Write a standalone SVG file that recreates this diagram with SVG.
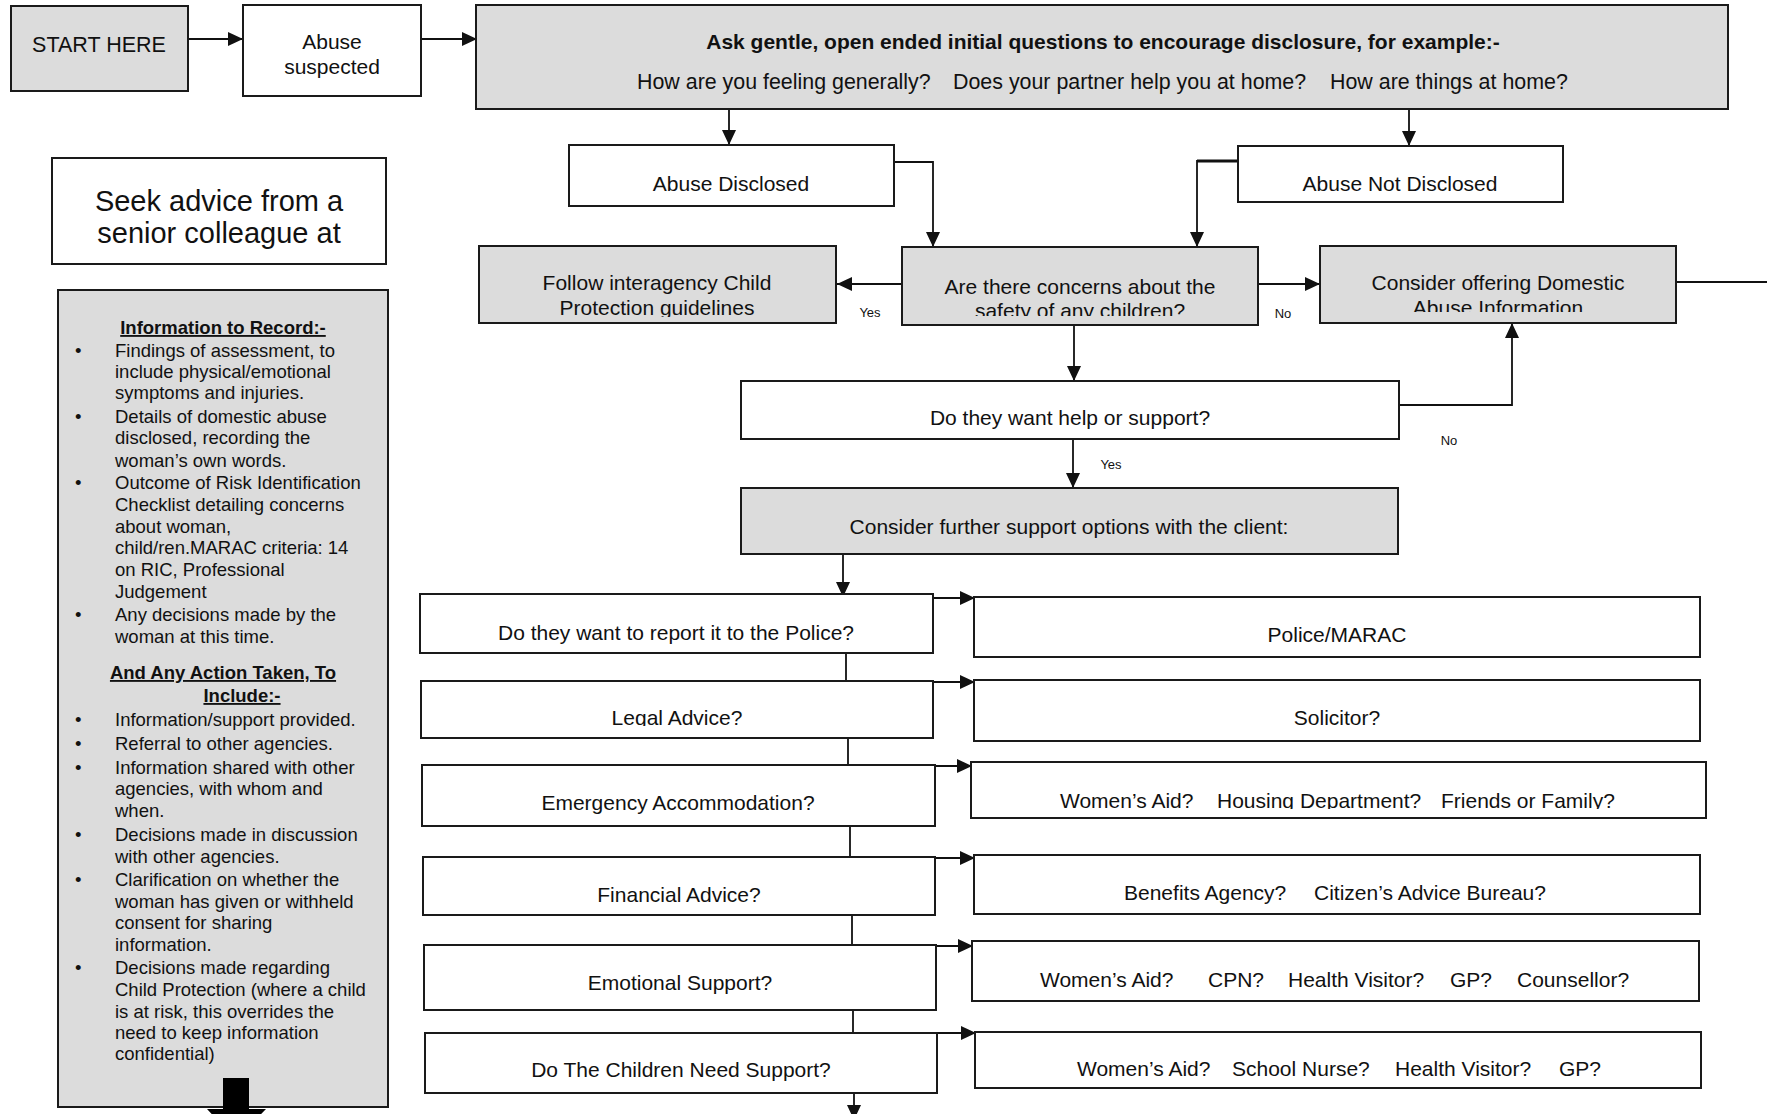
<svg xmlns="http://www.w3.org/2000/svg" width="1767" height="1114" viewBox="0 0 1767 1114">
<style>
.box{stroke:#1a1a1a;stroke-width:2}
.w{fill:#fff}
.g{fill:#dcdcdc}
.t{font-family:"Liberation Sans",Arial,sans-serif;font-size:21px;fill:#111}
.c{text-anchor:middle}
.b{font-weight:bold}
.p{font-size:18.5px}
.u{text-decoration:underline}
.s{font-size:13px}
.ln{stroke:#111;stroke-width:1.8;fill:none}
</style>
<defs>
<marker id="ah" markerUnits="userSpaceOnUse" markerWidth="16" markerHeight="14" refX="15" refY="7" orient="auto">
<path d="M0,0 L15,7 L0,14 z" fill="#111"/>
</marker>
<clipPath id="cpFollow"><rect x="480" y="247" width="356" height="70"/></clipPath>
<clipPath id="cpConcerns"><rect x="903" y="248" width="354" height="68"/></clipPath>
<clipPath id="cpConsider"><rect x="1321" y="247" width="354" height="65"/></clipPath>
<clipPath id="cpLegal"><rect x="422" y="682" width="510" height="44"/></clipPath>
<clipPath id="cpAccom"><rect x="972" y="763" width="733" height="46"/></clipPath>
</defs>
<rect x="0" y="0" width="1767" height="1114" fill="#fff"/>

<g id="connectors">
<path class="ln" d="M188,39 H243" marker-end="url(#ah)"/>
<path class="ln" d="M422,39 H477" marker-end="url(#ah)"/>
<path class="ln" d="M729,109 V145" marker-end="url(#ah)"/>
<path class="ln" d="M1409,109 V146" marker-end="url(#ah)"/>
<path class="ln" d="M894,162 H933 V247" marker-end="url(#ah)"/>
<path class="ln" d="M1238,161 H1197" style="stroke-width:3"/>
<path class="ln" d="M1197,160 V247" marker-end="url(#ah)"/>
<path class="ln" d="M902,284 H837" marker-end="url(#ah)"/>
<path class="ln" d="M1258,284 H1320" marker-end="url(#ah)"/>
<path class="ln" d="M1676,282 H1767"/>
<path class="ln" d="M1074,325 V381" marker-end="url(#ah)"/>
<path class="ln" d="M1399,405 H1512 V323" marker-end="url(#ah)"/>
<path class="ln" d="M1073,439 V488" marker-end="url(#ah)"/>
<path class="ln" d="M843,554 V597" marker-end="url(#ah)"/>
<path class="ln" d="M846,653 V681"/>
<path class="ln" d="M848,738 V765"/>
<path class="ln" d="M850,826 V857"/>
<path class="ln" d="M852,915 V945"/>
<path class="ln" d="M853,1010 V1033"/>
<path class="ln" d="M854,1093 V1120" marker-end="url(#ah)"/>
<path class="ln" d="M933,598 H975" marker-end="url(#ah)"/>
<path class="ln" d="M933,682 H975" marker-end="url(#ah)"/>
<path class="ln" d="M935,766 H972" marker-end="url(#ah)"/>
<path class="ln" d="M935,858 H975" marker-end="url(#ah)"/>
<path class="ln" d="M936,946 H973" marker-end="url(#ah)"/>
<path class="ln" d="M937,1033 H976" marker-end="url(#ah)"/>
<text class="t s c" x="870" y="317">Yes</text>
<text class="t s c" x="1283" y="318">No</text>
<text class="t s c" x="1449" y="445">No</text>
<text class="t s c" x="1111" y="469">Yes</text>
</g>

<g id="start">
<rect class="box g" x="11" y="6" width="177" height="85"/>
<text class="t c" x="99" y="52" style="font-size:21.5px">START HERE</text>
</g>
<g id="abuse-suspected">
<rect class="box w" x="243" y="5" width="178" height="91"/>
<text class="t c" x="332" y="49">Abuse</text>
<text class="t c" x="332" y="74">suspected</text>
</g>
<g id="seek-advice">
<rect class="box w" x="52" y="158" width="334" height="106"/>
<text class="t c" x="219" y="211" style="font-size:29px">Seek advice from a</text>
<text class="t c" x="219" y="243" style="font-size:29px">senior colleague at</text>
</g>
<g id="ask-questions">
<rect class="box g" x="476" y="5" width="1252" height="104"/>
<text class="t c b" x="1103" y="49">Ask gentle, open ended initial questions to encourage disclosure, for example:-</text>
<text class="t" y="89" style="font-size:21.4px"><tspan x="637">How are you feeling generally? </tspan><tspan x="953">Does your partner help you at home? </tspan><tspan x="1330">How are things at home?</tspan></text>
</g>
<g id="abuse-disclosed">
<rect class="box w" x="569" y="145" width="325" height="61"/>
<text class="t c" x="731" y="191">Abuse Disclosed</text>
</g>
<g id="abuse-not-disclosed">
<rect class="box w" x="1238" y="146" width="325" height="56"/>
<text class="t c" x="1400" y="191">Abuse Not Disclosed</text>
</g>
<g id="follow-guidelines">
<rect class="box g" x="479" y="246" width="357" height="77"/>
<g clip-path="url(#cpFollow)">
<text class="t c" x="657" y="290">Follow interagency Child</text>
<text class="t c" x="657" y="315">Protection guidelines</text>
</g>
</g>
<g id="child-safety">
<rect class="box g" x="902" y="247" width="356" height="78"/>
<g clip-path="url(#cpConcerns)">
<text class="t c" x="1080" y="294">Are there concerns about the</text>
<text class="t c" x="1080" y="318">safety of any children?</text>
</g>
</g>
<g id="offer-information">
<rect class="box g" x="1320" y="246" width="356" height="77"/>
<g clip-path="url(#cpConsider)">
<text class="t c" x="1498" y="290">Consider offering Domestic</text>
<text class="t c" x="1498" y="315">Abuse Information</text>
</g>
</g>
<g id="want-help">
<rect class="box w" x="741" y="381" width="658" height="58"/>
<text class="t c" x="1070" y="425">Do they want help or support?</text>
</g>
<g id="further-support">
<rect class="box g" x="741" y="488" width="657" height="66"/>
<text class="t c" x="1069" y="534">Consider further support options with the client:</text>
</g>

<g id="q-police">
<rect class="box w" x="420" y="594" width="513" height="59"/>
<text class="t c" x="676" y="640">Do they want to report it to the Police?</text>
</g>
<g id="q-legal">
<rect class="box w" x="421" y="681" width="512" height="57"/>
<text class="t c" x="677" y="725" clip-path="url(#cpLegal)">Legal Advice?</text>
</g>
<g id="q-accommodation">
<rect class="box w" x="422" y="765" width="513" height="61"/>
<text class="t c" x="678" y="810">Emergency Accommodation?</text>
</g>
<g id="q-financial">
<rect class="box w" x="423" y="857" width="512" height="58"/>
<text class="t c" x="679" y="902">Financial Advice?</text>
</g>
<g id="q-emotional">
<rect class="box w" x="424" y="945" width="512" height="65"/>
<text class="t c" x="680" y="990">Emotional Support?</text>
</g>
<g id="q-children">
<rect class="box w" x="425" y="1033" width="512" height="60"/>
<text class="t c" x="681" y="1077">Do The Children Need Support?</text>
</g>

<g id="a-police">
<rect class="box w" x="974" y="597" width="726" height="60"/>
<text class="t c" x="1337" y="642">Police/MARAC</text>
</g>
<g id="a-solicitor">
<rect class="box w" x="974" y="680" width="726" height="61"/>
<text class="t c" x="1337" y="725">Solicitor?</text>
</g>
<g id="a-accommodation">
<rect class="box w" x="971" y="762" width="735" height="56"/>
<text class="t" y="808" clip-path="url(#cpAccom)"><tspan x="1060">Women’s Aid? </tspan><tspan x="1217">Housing Department? </tspan><tspan x="1441">Friends or Family?</tspan></text>
</g>
<g id="a-financial">
<rect class="box w" x="974" y="855" width="726" height="59"/>
<text class="t" y="900"><tspan x="1124">Benefits Agency? </tspan><tspan x="1314">Citizen’s Advice Bureau?</tspan></text>
</g>
<g id="a-emotional">
<rect class="box w" x="972" y="941" width="727" height="60"/>
<text class="t" y="987"><tspan x="1040">Women’s Aid? </tspan><tspan x="1208">CPN? </tspan><tspan x="1288">Health Visitor? </tspan><tspan x="1450">GP? </tspan><tspan x="1517">Counsellor?</tspan></text>
</g>
<g id="a-children">
<rect class="box w" x="975" y="1032" width="726" height="56"/>
<text class="t" y="1076"><tspan x="1077">Women’s Aid? </tspan><tspan x="1232">School Nurse? </tspan><tspan x="1395">Health Visitor? </tspan><tspan x="1559">GP?</tspan></text>
</g>

<g id="record-panel">
<rect class="box g" x="58" y="290" width="330" height="817"/>
<text class="t p b u c" x="223" y="334">Information to Record:-</text>
<g class="t p">
<text x="75" y="357">•</text><text x="115" y="357">Findings of assessment, to</text>
<text x="115" y="378">include physical/emotional</text>
<text x="115" y="399">symptoms and injuries.</text>
<text x="75" y="423">•</text><text x="115" y="423">Details of domestic abuse</text>
<text x="115" y="444">disclosed, recording the</text>
<text x="115" y="467">woman’s own words.</text>
<text x="75" y="489">•</text><text x="115" y="489">Outcome of Risk Identification</text>
<text x="115" y="511">Checklist detailing concerns</text>
<text x="115" y="533">about woman,</text>
<text x="115" y="554">child/ren.MARAC criteria: 14</text>
<text x="115" y="576">on RIC, Professional</text>
<text x="115" y="598">Judgement</text>
<text x="75" y="621">•</text><text x="115" y="621">Any decisions made by the</text>
<text x="115" y="643">woman at this time.</text>
</g>
<text class="t p b u c" x="223" y="679">And Any Action Taken, To</text>
<text class="t p b u c" x="242" y="702">Include:-</text>
<g class="t p">
<text x="75" y="726">•</text><text x="115" y="726">Information/support provided.</text>
<text x="75" y="750">•</text><text x="115" y="750">Referral to other agencies.</text>
<text x="75" y="774">•</text><text x="115" y="774">Information shared with other</text>
<text x="115" y="795">agencies, with whom and</text>
<text x="115" y="817">when.</text>
<text x="75" y="841">•</text><text x="115" y="841">Decisions made in discussion</text>
<text x="115" y="863">with other agencies.</text>
<text x="75" y="886">•</text><text x="115" y="886">Clarification on whether the</text>
<text x="115" y="908">woman has given or withheld</text>
<text x="115" y="929">consent for sharing</text>
<text x="115" y="951">information.</text>
<text x="75" y="974">•</text><text x="115" y="974">Decisions made regarding</text>
<text x="115" y="996">Child Protection (where a child</text>
<text x="115" y="1018">is at risk, this overrides the</text>
<text x="115" y="1039">need to keep information</text>
<text x="115" y="1060">confidential)</text>
</g>
<polygon points="223,1078 249,1078 249,1109 266,1109 236,1140 207,1109 223,1109" fill="#000"/>
</g>
</svg>
